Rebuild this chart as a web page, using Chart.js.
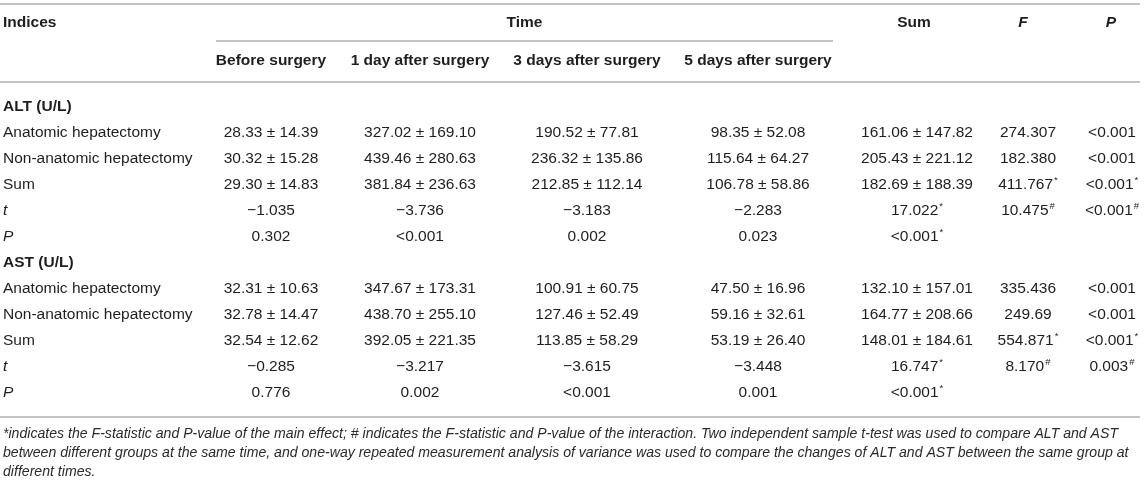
<!DOCTYPE html>
<html lang="en">
<head>
<meta charset="UTF-8">
<title>ALT and AST before and after hepatectomy</title>
<script src="https://cdn.jsdelivr.net/npm/chart.js@4.4.1/dist/chart.umd.min.js"></script>
<style>
  html, body { margin: 0; padding: 0; background: #ffffff; }
  .table-wrap { position: relative; width: 1146px; height: 483px; }
</style>
</head>
<body>
<div class="table-wrap"><canvas id="tableChart"></canvas></div>
<script>
// headings
const indicesLabel = 'Indices';
const timeLabel = 'Time';
const timePoints = ['Before surgery', '1 day after surgery', '3 days after surgery', '5 days after surgery'];
const statCols = ['Sum', 'F', 'P'];
const groups = ['Anatomic hepatectomy', 'Non-anatomic hepatectomy', 'Sum'];

// ALT (U/L) - mean / sd for the 4 time points + Sum column
const altAnatMean = [28.33, 327.02, 190.52, 98.35, 161.06];
const altAnatSd   = [14.39, 169.10, 77.81, 52.08, 147.82];
const altNonMean  = [30.32, 439.46, 236.32, 115.64, 205.43];
const altNonSd    = [15.28, 280.63, 135.86, 64.27, 221.12];
const altSumMean  = [29.30, 381.84, 212.85, 106.78, 182.69];
const altSumSd    = [14.83, 236.63, 112.14, 58.86, 188.39];
const altT = ['\u22121.035', '\u22123.736', '\u22123.183', '\u22122.283', '17.022*'];
const altP = ['0.302', '<0.001', '0.002', '0.023', '<0.001*'];
const altF  = ['274.307', '182.380', '411.767*', '10.475#'];   // anat, non, sum, t rows
const altFP = ['<0.001', '<0.001', '<0.001*', '<0.001#'];

// AST (U/L)
const astAnatMean = [32.31, 347.67, 100.91, 47.50, 132.10];
const astAnatSd   = [10.63, 173.31, 60.75, 16.96, 157.01];
const astNonMean  = [32.78, 438.70, 127.46, 59.16, 164.77];
const astNonSd    = [14.47, 255.10, 52.49, 32.61, 208.66];
const astSumMean  = [32.54, 392.05, 113.85, 53.19, 148.01];
const astSumSd    = [12.62, 221.35, 58.29, 26.40, 184.61];
const astT = ['\u22120.285', '\u22123.217', '\u22123.615', '\u22123.448', '16.747*'];
const astP = ['0.776', '0.002', '<0.001', '0.001', '<0.001*'];
const astF  = ['335.436', '249.69', '554.871*', '8.170#'];
const astFP = ['<0.001', '<0.001', '<0.001*', '0.003#'];

const footnote = [
  '*indicates the F-statistic and P-value of the main effect; # indicates the F-statistic and P-value of the interaction. Two independent sample t-test was used to compare ALT and AST',
  'between different groups at the same time, and one-way repeated measurement analysis of variance was used to compare the changes of ALT and AST between the same group at',
  'different times.'
];

// ---- layout (pixels) ----
const W = 1146, H = 483;
const FONT = '"Liberation Sans", Arial, Helvetica, sans-serif';
const SIZE = 15.5;
const INK = '#1e1e1e';
const RULE = '#c4c4c4';
const COL_X  = [3, 271, 420, 587, 758, 917, 1028, 1112];   // cell anchors
const HEAD_X = [3, 271, 420, 587, 758, 914, 1023, 1111];
const BODY_TOP = 94, BODY_BOTTOM = 406;

// ---- build rows ----
const pm = (m, s) => m.map((v, i) => v.toFixed(2) + ' \u00b1 ' + s[i].toFixed(2));

function block(name, key, anat, non, sum, t, p, f, fp) {
  return [
    { key: key, cells: [name], style: 'bold' },
    { key: key + '-anat', cells: [groups[0], ...anat, f[0], fp[0]] },
    { key: key + '-non',  cells: [groups[1], ...non,  f[1], fp[1]] },
    { key: key + '-sum',  cells: [groups[2], ...sum,  f[2], fp[2]] },
    { key: key + '-t',    cells: ['t', ...t, f[3], fp[3]], labelStyle: 'italic' },
    { key: key + '-p',    cells: ['P', ...p], labelStyle: 'italic' }
  ];
}

const rows = [
  ...block('ALT (U/L)', 'alt', pm(altAnatMean, altAnatSd), pm(altNonMean, altNonSd), pm(altSumMean, altSumSd), altT, altP, altF, altFP),
  ...block('AST (U/L)', 'ast', pm(astAnatMean, astAnatSd), pm(astNonMean, astNonSd), pm(astSumMean, astSumSd), astT, astP, astF, astFP)
];
const rowKeys = rows.map(r => r.key);

// one scatter dataset per column, one invisible point per filled cell
const datasets = COL_X.map((x, c) => {
  const data = [], cells = [];
  rows.forEach(r => {
    const txt = r.cells[c];
    if (txt === undefined) return;
    let style = 'normal';
    if (c === 0) style = r.style || r.labelStyle || 'normal';
    data.push({ x: x, y: r.key });
    cells.push({ text: txt, style: style });
  });
  return { data: data, cells: cells, align: c === 0 ? 'left' : 'center', pointRadius: 0, showLine: false };
});

function fontFor(style, size) {
  if (style === 'bold') return 'bold ' + size + 'px ' + FONT;
  if (style === 'italic') return 'italic ' + size + 'px ' + FONT;
  if (style === 'bolditalic') return 'italic bold ' + size + 'px ' + FONT;
  return size + 'px ' + FONT;
}

// text with an optional trailing superscript marker (* or #)
function drawCell(ctx, text, x, y, style, align) {
  let main = text, sup = '';
  const last = text.slice(-1);
  if (text.length > 1 && (last === '*' || last === '#')) { main = text.slice(0, -1); sup = last; }
  ctx.font = fontFor(style, SIZE);
  const wMain = ctx.measureText(main).width;
  ctx.font = fontFor('normal', SIZE * 0.62);
  const wSup = sup ? ctx.measureText(sup).width + 1 : 0;
  let x0 = align === 'left' ? x : x - (wMain + wSup) / 2;
  ctx.textAlign = 'left';
  ctx.textBaseline = 'middle';
  ctx.fillStyle = INK;
  ctx.font = fontFor(style, SIZE);
  ctx.fillText(main, x0, y);
  if (sup) {
    ctx.font = fontFor('normal', SIZE * 0.62);
    ctx.fillText(sup, x0 + wMain + 1, y - 5);
  }
}

function rule(ctx, x1, x2, y) {
  ctx.beginPath();
  ctx.moveTo(x1, y);
  ctx.lineTo(x2, y);
  ctx.stroke();
}

const tablePlugin = {
  id: 'tableText',
  afterDatasetsDraw(chart) {
    const ctx = chart.ctx;
    ctx.save();
    chart.data.datasets.forEach((ds, i) => {
      chart.getDatasetMeta(i).data.forEach((pt, j) => {
        drawCell(ctx, ds.cells[j].text, pt.x, pt.y, ds.cells[j].style, ds.align);
      });
    });

    // header rows
    const xs = chart.scales.x;
    const hx = c => xs.getPixelForValue(HEAD_X[c]);
    drawCell(ctx, indicesLabel, hx(0), 23, 'bold', 'left');
    const tL = xs.getPixelForValue(216), tR = xs.getPixelForValue(833);
    drawCell(ctx, timeLabel, (tL + tR) / 2, 23, 'bold', 'center');
    drawCell(ctx, statCols[0], hx(5), 23, 'bold', 'center');
    drawCell(ctx, statCols[1], hx(6), 23, 'bolditalic', 'center');
    drawCell(ctx, statCols[2], hx(7), 23, 'bolditalic', 'center');
    timePoints.forEach((t, k) => drawCell(ctx, t, hx(k + 1), 61, 'bold', 'center'));

    // rules
    ctx.strokeStyle = RULE;
    ctx.lineWidth = 2;
    rule(ctx, 0, 1140, 4);
    rule(ctx, tL, tR, 41);
    rule(ctx, 0, 1140, 82);
    rule(ctx, 0, 1140, 417);

    // footnote
    ctx.fillStyle = '#2a2a2a';
    ctx.textAlign = 'left';
    ctx.textBaseline = 'middle';
    ctx.font = 'italic 14.1px ' + FONT;
    footnote.forEach((line, k) => ctx.fillText(line, 3, 434 + k * 19));
    ctx.restore();
  }
};

new Chart(document.getElementById('tableChart'), {
  type: 'scatter',
  data: { datasets: datasets },
  options: {
    responsive: true,
    maintainAspectRatio: false,
    animation: false,
    events: [],
    layout: { padding: { top: BODY_TOP, bottom: H - BODY_BOTTOM, left: 0, right: 0 } },
    plugins: { legend: { display: false }, tooltip: { enabled: false } },
    scales: {
      x: { type: 'linear', min: 0, max: W, display: false },
      y: { type: 'category', labels: rowKeys, offset: true, display: false }
    }
  },
  plugins: [tablePlugin]
});
</script>
</body>
</html>
